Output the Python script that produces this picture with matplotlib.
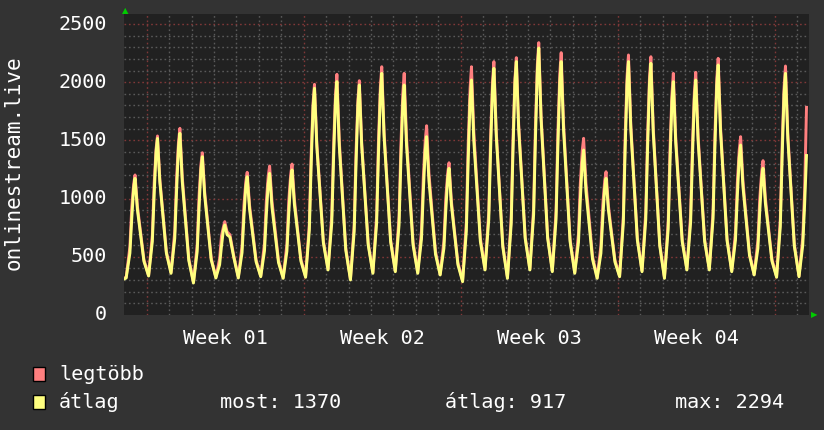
import numpy as np
import matplotlib
matplotlib.use("Agg")
import matplotlib.pyplot as plt

# mintavételi órák egy napon belül
OFFSETS = [2, 6, 8, 10, 11.5, 14, 17, 21]

START_AVG = 310
START_MAX = 318

# átlag - napi értékek
AVG_DAYS = [
    [318, 532, 832, 1088, 1174, 906, 713, 461],
    [335, 631, 1044, 1399, 1517, 1146, 880, 532],
    [358, 659, 1080, 1441, 1561, 1149, 854, 468],
    [275, 546, 926, 1252, 1360, 1027, 787, 474],
    [318, 432, 591, 728, 773, 690, 670, 500],
    [318, 536, 840, 1101, 1188, 913, 716, 458],
    [329, 551, 862, 1128, 1217, 928, 721, 450],
    [315, 548, 874, 1153, 1246, 951, 739, 462],
    [324, 730, 1298, 1786, 1948, 1448, 1089, 621],
    [387, 792, 1358, 1843, 2005, 1460, 1068, 557],
    [301, 720, 1306, 1809, 1976, 1458, 1086, 601],
    [358, 788, 1389, 1904, 2076, 1531, 1139, 628],
    [372, 773, 1334, 1816, 1976, 1458, 1086, 601],
    [358, 652, 1062, 1415, 1532, 1152, 879, 522],
    [344, 573, 894, 1168, 1260, 948, 724, 432],
    [286, 719, 1326, 1846, 2019, 1497, 1121, 632],
    [387, 820, 1426, 1946, 2119, 1542, 1127, 586],
    [315, 781, 1432, 1991, 2177, 1604, 1193, 656],
    [387, 863, 1529, 2100, 2294, 1677, 1236, 660],
    [372, 823, 1455, 1997, 2177, 1595, 1177, 631],
    [358, 623, 993, 1311, 1417, 1064, 811, 480],
    [315, 530, 830, 1088, 1174, 904, 709, 456],
    [329, 791, 1438, 1992, 2177, 1599, 1184, 643],
    [372, 820, 1446, 1983, 2162, 1571, 1146, 592],
    [315, 738, 1329, 1836, 2005, 1487, 1115, 630],
    [387, 795, 1366, 1856, 2019, 1497, 1121, 632],
    [387, 827, 1444, 1972, 2148, 1580, 1171, 638],
    [372, 644, 1025, 1351, 1460, 1103, 846, 511],
    [344, 573, 894, 1168, 1260, 960, 745, 464],
    [324, 762, 1375, 1901, 2076, 1517, 1115, 591],
    [329, 600, 950, 1370],
]

# legtöbb - napi értékek
MAX_DAYS = [
    [325, 587, 929, 1124, 1203, 936, 736, 475],
    [340, 686, 1137, 1428, 1538, 1170, 900, 545],
    [365, 720, 1186, 1489, 1604, 1188, 883, 485],
    [282, 604, 1026, 1293, 1394, 1060, 812, 489],
    [325, 485, 680, 755, 802, 715, 690, 515],
    [325, 595, 940, 1145, 1226, 945, 743, 474],
    [335, 617, 980, 1195, 1280, 980, 758, 470],
    [322, 609, 985, 1204, 1297, 993, 766, 478],
    [330, 788, 1398, 1825, 1982, 1478, 1111, 636],
    [395, 858, 1468, 1900, 2068, 1505, 1098, 575],
    [308, 779, 1408, 1852, 2013, 1488, 1108, 617],
    [365, 852, 1503, 1965, 2133, 1570, 1165, 645],
    [380, 848, 1464, 1906, 2076, 1526, 1131, 625],
    [365, 725, 1188, 1500, 1626, 1216, 921, 546],
    [350, 635, 1002, 1216, 1308, 981, 746, 449],
    [295, 798, 1474, 1949, 2133, 1575, 1172, 659],
    [395, 885, 1541, 2008, 2177, 1581, 1153, 605],
    [322, 839, 1532, 2032, 2211, 1637, 1218, 671],
    [395, 925, 1638, 2154, 2340, 1710, 1268, 677],
    [380, 892, 1581, 2076, 2254, 1650, 1221, 652],
    [365, 698, 1134, 1411, 1518, 1133, 866, 505],
    [322, 594, 944, 1150, 1231, 943, 735, 474],
    [335, 855, 1552, 2053, 2234, 1638, 1210, 660],
    [380, 885, 1560, 2045, 2219, 1610, 1170, 610],
    [322, 806, 1445, 1900, 2076, 1535, 1147, 650],
    [395, 862, 1476, 1915, 2085, 1542, 1151, 650],
    [395, 891, 1548, 2033, 2205, 1619, 1197, 655],
    [380, 710, 1138, 1416, 1532, 1152, 878, 530],
    [350, 640, 1004, 1227, 1326, 1005, 775, 480],
    [330, 828, 1483, 1958, 2139, 1560, 1143, 606],
    [335, 665, 1070, 1784],
]

WEEK_LABELS = ["Week 01", "Week 02", "Week 03", "Week 04"]
YTICKS = [0, 500, 1000, 1500, 2000, 2500]
LEGEND_STATS = ["most: 1370", "átlag: 917", "max: 2294"]


def series(start, days):
    t = [0.0]
    v = [start]
    for d, vals in enumerate(days):
        for o, val in zip(OFFSETS, vals):
            t.append(d * 24 + o)
            v.append(val)
    return np.array(t), np.array(v)


t_avg, v_avg = series(START_AVG, AVG_DAYS)
t_max, v_max = series(START_MAX, MAX_DAYS)

BG = "#333333"
PLOT_BG = "#212121"
FONT = "DejaVu Sans Mono"
FS = 14.5

W, H = 824, 430
fig = plt.figure(figsize=(W / 100, H / 100), dpi=100, facecolor=BG)
L, R, T, B = 124.3, 809.3, 14, 315
ax = fig.add_axes([L / W, 1 - B / H, (R - L) / W, (B - T) / H])
ax.set_facecolor(PLOT_BG)

XMAX = 733.0
YMAX = 2586
ax.set_xlim(0, XMAX)
ax.set_ylim(0, YMAX)

# rácsvonalak
for x in np.arange(24, XMAX, 24):
    major = (x - 24) % 168 == 0
    ax.axvline(x, color="#803838" if major else "#5a5a5a", lw=1,
               ls=(0, (1.2, 2.0)), zorder=1)
for y in range(100, YMAX, 100):
    major = y % 500 == 0
    ax.axhline(y, color="#803838" if major else "#5a5a5a", lw=1,
               ls=(0, (1.2, 2.0)), zorder=1)

ax.plot(t_max, v_max, color="#ff7f7f", lw=2.1, zorder=3)
ax.plot(t_avg, v_avg, color="#ffff7f", lw=2.1, zorder=4)

for s in ax.spines.values():
    s.set_visible(False)
ax.set_xticks([])
ax.set_yticks([])

for y in YTICKS:
    ax.text(-18.2, y, str(y), ha="right", va="center",
            color="white", fontsize=FS, family=FONT, clip_on=False)

for i, lab in enumerate(WEEK_LABELS):
    ax.text(24 + 84 + 168 * i, -200, lab, ha="center", va="center",
            color="white", fontsize=FS, family=FONT, clip_on=False)

fig.text(14 / W, 1 - 163 / H, "onlinestream.live", rotation=90, ha="center",
         va="center", color="white", fontsize=15, family=FONT)

# nyilak
fig.text(125 / W, 1 - 10.5 / H, "▲", color="#00cc00", fontsize=6,
         ha="center", va="center", family="DejaVu Sans")
fig.text(814 / W, 1 - 315 / H, "▶", color="#00cc00", fontsize=6,
         ha="center", va="center", family="DejaVu Sans")

# jelmagyarázat
for yc, col, name in [(374, "#ff7f7f", "legtöbb"), (402, "#ffff7f", "átlag")]:
    fig.patches.append(plt.Rectangle((33 / W, 1 - (yc + 7) / H), 12 / W, 14 / H,
                                     transform=fig.transFigure, facecolor=col,
                                     edgecolor="black", lw=1))
    fig.text(59 / W, 1 - yc / H, name, color="white", fontsize=FS,
             family=FONT, va="center", ha="left")

for xs, txt in zip([220, 445, 675], LEGEND_STATS):
    fig.text(xs / W, 1 - 402 / H, txt, color="white", fontsize=FS,
             family=FONT, va="center", ha="left")

fig.savefig("out.png", dpi=100, facecolor=BG)
